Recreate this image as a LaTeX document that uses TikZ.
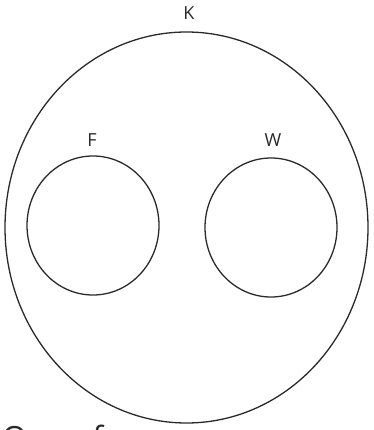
\documentclass[tikz,border=0pt]{standalone}
\usepackage{fontspec}
\setmainfont{Open Sans}
\usetikzlibrary{shapes.geometric}
\definecolor{ink}{HTML}{2A2A2A}
\tikzset{
  ring/.style={draw=ink, line width=1.3pt, ellipse, inner sep=0pt},
  lbl/.style={text=ink, font=\fontsize{18}{21}\selectfont, inner sep=0pt}
}
\begin{document}
\begin{tikzpicture}[x=1pt,y=-1pt]
\useasboundingbox (0,0) rectangle (373,430);
\clip (0,0) rectangle (373,430);
\fill[white] (0,0) rectangle (373,430);
\node[ring, minimum width=363pt, minimum height=391pt] (K) at (186.5,227.5) {};
\node[ring, minimum width=132pt, minimum height=139pt] (F) at (93,225.5) {};
\node[ring, minimum width=132pt, minimum height=139pt] (W) at (271,227.5) {};
\node[lbl] (kl) at (189,13) {K};
\node[lbl] (fl) at (92,140) {F};
\node[lbl] (wl) at (273,140) {W};
\node[text=ink, font=\fontsize{32}{36}\selectfont, inner sep=0pt, anchor=base west] (q) at (2,449) {One of};
\end{tikzpicture}
\end{document}
